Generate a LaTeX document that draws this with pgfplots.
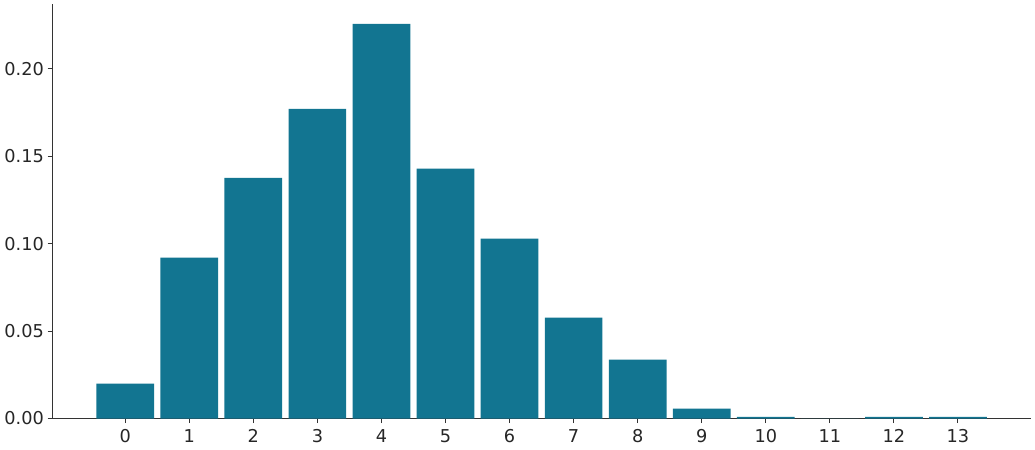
\documentclass[border=0pt]{standalone}
\usepackage{pgfplots}
\pgfplotsset{compat=1.18}
\usepackage{fontspec}
\setmainfont{DejaVu Sans}
\definecolor{barc}{RGB}{18,117,145}
\definecolor{spine}{RGB}{51,51,51}
\definecolor{txt}{RGB}{38,38,38}
\begin{document}
\begin{tikzpicture}
\begin{axis}[
  scale only axis,
  width=735pt, height=311.25pt,
  xmin=-1.14, xmax=14.14,
  ymin=0, ymax=0.2371,
  axis x line*=bottom, axis y line*=left,
  axis line style={spine, line width=0.75pt},
  every tick/.style={spine, line width=0.75pt},
  tick align=outside, tickwidth=3.5pt,
  xtick={0,...,13},
  ytick={0,0.05,0.1,0.15,0.2},
  yticklabel style={/pgf/number format/fixed, /pgf/number format/fixed zerofill, /pgf/number format/precision=2, xshift=0.8pt},
  /pgf/number format/assume math mode=true,
  tick label style={font=\fontsize{13.3}{15}\selectfont, text=txt},
  ybar, bar width=0.9,
  xticklabel style={yshift=-1pt},
]
\addplot[fill=barc, draw=none] coordinates {
(0,0.0200) (1,0.0920) (2,0.1377) (3,0.1771) (4,0.2257) (5,0.1429) (6,0.1029)
(7,0.0577) (8,0.0337) (9,0.0057) (10,0.0009) (11,0) (12,0.0009) (13,0.0009)
};
\coordinate (sw) at (rel axis cs:0,0);
\coordinate (ne) at (rel axis cs:1,1);
\end{axis}
\path (sw) ++(-36pt,-23.25pt) (ne) ++(3pt,3pt);
\end{tikzpicture}
\end{document}
